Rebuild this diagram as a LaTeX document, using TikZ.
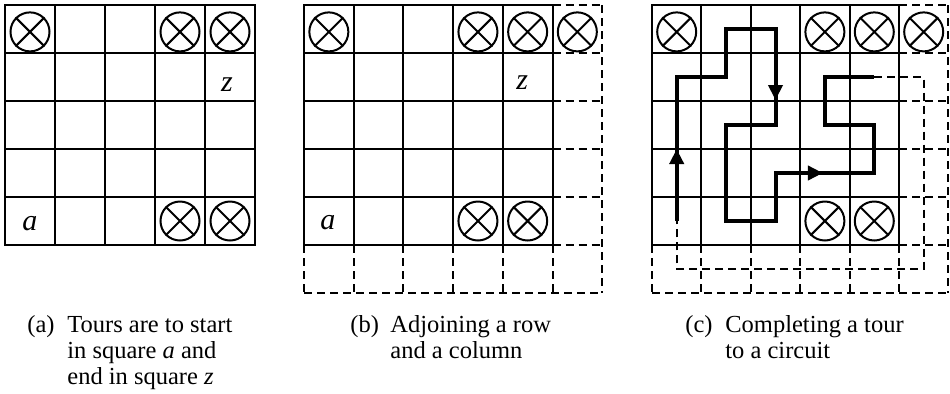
\documentclass[tikz,border=0pt]{standalone}
\usepackage{fontspec}
\setmainfont{Liberation Serif}
\usetikzlibrary{arrows.meta}
\tikzset{
  gridln/.style={line width=1pt, line cap=rect},
  dashln/.style={line width=1pt, dash pattern=on 4pt off 2.5pt},
  tourln/.style={line width=2pt, line join=miter},
  tourdash/.style={line width=1pt, dash pattern=on 4pt off 2.5pt},
  blk/.style={circle, draw, line width=1pt, minimum size=19.5pt, inner sep=0pt},
  blkx/.style={line width=1pt},
  lbl/.style={font=\fontsize{15}{16}\selectfont\itshape, anchor=base, inner sep=0pt},
  captext/.style={anchor=base west, inner sep=0pt, font=\fontsize{12.25}{13.15}\selectfont},
  arr/.style={line width=2pt, -{Triangle[length=7.5pt,width=7pt]}},
}
\newcommand\xcell[3]{\node[blk] (#1) at (#2,#3) {};
  \draw[blkx] (#1.north west) -- (#1.south east) (#1.north east) -- (#1.south west);}
\newcommand\solidgrid{%
  \foreach \i in {0,...,5} \draw[gridln] (\i,0) -- (\i,5);
  \foreach \j in {0,...,5} \draw[gridln] (0,\j) -- (5,\j);}
\newcommand\extragrid{%
  \foreach \i in {0,...,5} \draw[dashln] (\i,5) -- (\i,6);
  \draw[dashln] (6,0) -- (6,6);
  \foreach \j in {0,...,5} \draw[dashln] (5,\j) -- (6,\j);
  \draw[dashln] (0,6) -- (6,6);}
\begin{document}
\begin{tikzpicture}[x=0.5pt,y=-0.5pt]
\useasboundingbox (0,0) rectangle (950,393);

% ---------- panel (a)
\begin{scope}[shift={(5,5)}, x=25pt, y=-24pt]
  \solidgrid
  \xcell{a1}{0.5}{0.56}
  \xcell{a2}{3.5}{0.56}
  \xcell{a3}{4.5}{0.56}
  \xcell{a4}{3.5}{4.5}
  \xcell{a5}{4.5}{4.5}
  \node[lbl] (az) at (4.44,1.81) {z};
  \node[lbl] (aa) at (0.5,4.69) {a};
\end{scope}

% ---------- panel (b)
\begin{scope}[shift={(304,5)}, x=24.85pt, y=-24pt]
  \solidgrid
  \extragrid
  \xcell{b1}{0.5}{0.56}
  \xcell{b2}{3.5}{0.56}
  \xcell{b3}{4.5}{0.56}
  \xcell{b4}{5.5}{0.56}
  \xcell{b5}{3.5}{4.5}
  \xcell{b6}{4.5}{4.5}
  \node[lbl] (bz) at (4.39,1.77) {z};
  \node[lbl] (ba) at (0.48,4.67) {a};
\end{scope}

% ---------- panel (c)
\begin{scope}[shift={(652,5)}, x=24.7pt, y=-24pt]
  \solidgrid
  \extragrid
  \xcell{c1}{0.5}{0.56}
  \xcell{c2}{3.5}{0.56}
  \xcell{c3}{4.5}{0.56}
  \xcell{c4}{5.5}{0.56}
  \xcell{c5}{3.5}{4.5}
  \xcell{c6}{4.5}{4.5}
  \coordinate (ca) at (0.5,4.5);
  \coordinate (cz) at (4.5,1.5);
  \draw[tourln] (ca) -- (0.5,1.5) -- (1.5,1.5) -- (1.5,0.5) -- (2.5,0.5)
     -- (2.5,2.5) -- (1.5,2.5) -- (1.5,4.5) -- (2.5,4.5) -- (2.5,3.5)
     -- (4.5,3.5) -- (4.5,2.5) -- (3.5,2.5) -- (3.5,1.5) -- (cz);
  \draw[tourdash] (cz) -- (5.5,1.5) -- (5.5,5.5) -- (0.5,5.5) -- (ca);
  \draw[arr] (0.5,3.5) -- (0.5,3.0);
  \draw[arr] (2.5,1.5) -- (2.5,1.98);
  \draw[arr] (2.8,3.5) -- (3.46,3.5);
\end{scope}

% ---------- captions
\node[captext] (capa) at (27,332) {\begin{tabular}[t]{@{}l@{}l@{}}
  \makebox[20pt][l]{(a)} & Tours are to start\\
  & in square \textit{a} and\\
  & end in square \textit{z}\end{tabular}};
\node[captext] (capb) at (350,332) {\begin{tabular}[t]{@{}l@{}l@{}}
  \makebox[20pt][l]{(b)} & Adjoining a row\\
  & and a column\end{tabular}};
\node[captext] (capc) at (685,332) {\begin{tabular}[t]{@{}l@{}l@{}}
  \makebox[20pt][l]{(c)} & Completing a tour\\
  & to a circuit\end{tabular}};
\end{tikzpicture}
\end{document}
